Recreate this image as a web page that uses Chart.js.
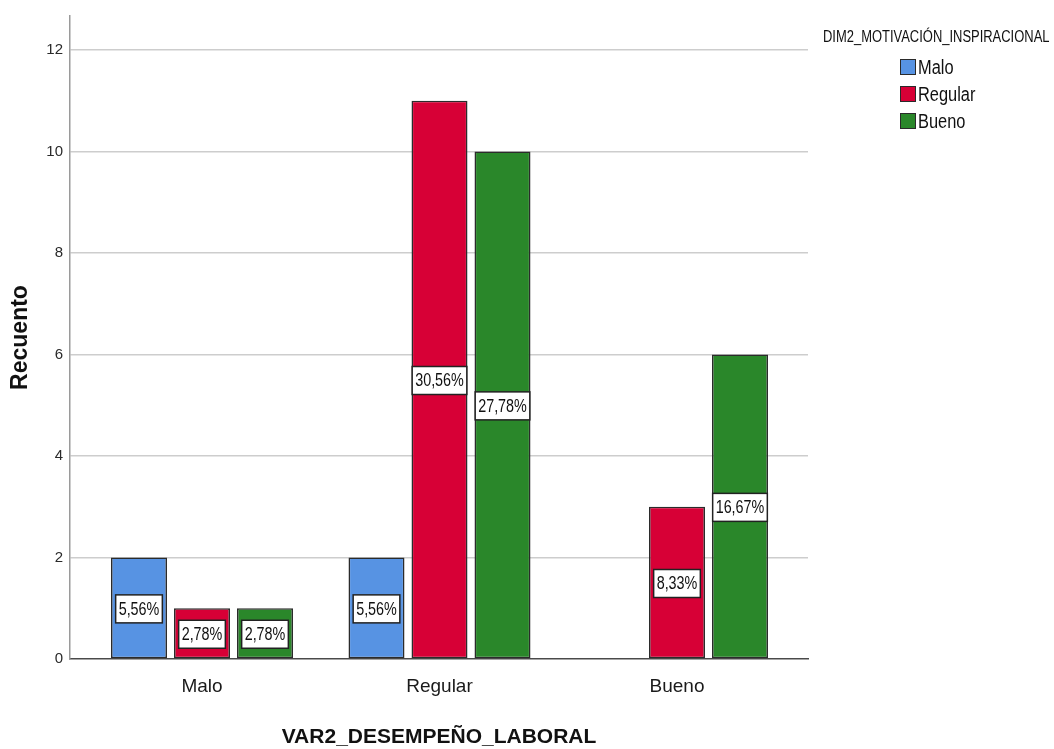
<!DOCTYPE html>
<html lang="es">
<head>
<meta charset="utf-8">
<title>Recuento por VAR2_DESEMPEÑO_LABORAL</title>
<script src="https://cdn.jsdelivr.net/npm/chart.js@4/dist/chart.umd.min.js"></script>
<style>
  html, body { margin: 0; padding: 0; background: #ffffff; }
  #wrap { position: relative; width: 1054px; height: 749px; overflow: hidden; }
  #chart { position: absolute; left: 0; top: 0; }
  #legend { position: absolute; left: 0; top: 0; width: 1054px; height: 749px; pointer-events: none;
            font-family: 'Liberation Sans', Arial, sans-serif; color: #111; }
  #legend .title { position: absolute; left: 823px; top: 28px; font-size: 15.8px; line-height: 18px;
                   white-space: nowrap; transform: scaleX(0.82); transform-origin: 0 0; }
  #legend .item { position: absolute; left: 900px; height: 20px; display: flex; align-items: center; white-space: nowrap; }
  #legend .box { width: 14px; height: 14px; border: 1px solid #2a2a2a; margin-right: 2px; flex: none; }
  #legend .lbl { font-size: 20px; line-height: 20px; transform: scaleX(0.82); transform-origin: 0 50%; }
</style>
</head>
<body>
<div id="wrap">
  <canvas id="chart" width="1054" height="749"></canvas>
  <div id="legend"></div>
</div>
<script>
// Categories of the x axis (VAR2_DESEMPEÑO_LABORAL)
const categories = ['Malo', 'Regular', 'Bueno'];

// Groups of DIM2_MOTIVACIÓN_INSPIRACIONAL (one bar series each)
const seriesNames = ['Malo', 'Regular', 'Bueno'];

// Counts per x category, one array per DIM2 group
const countsMalo    = [2, 2, 0];
const countsRegular = [1, 11, 3];
const countsBueno   = [1, 10, 6];

// Y axis tick values
const yTicks = [0, 2, 4, 6, 8, 10, 12];

const seriesColors = ['#5793e3', '#d70036', '#2a872a'];
const seriesCounts = [countsMalo, countsRegular, countsBueno];

const totalCount = seriesCounts.flat().reduce((a, b) => a + b, 0);

const SANS = "'Liberation Sans', Arial, sans-serif";
const NARROW_X = 0.82; // horizontal squeeze for the condensed label text

// Percentage of the grand total, written with a decimal comma
function pctLabel(v) {
  return (v / totalCount * 100).toFixed(2).replace('.', ',') + '%';
}

// White boxed percentage in the middle of every bar
const barValueBoxes = {
  id: 'barValueBoxes',
  afterDatasetsDraw(chart) {
    const ctx = chart.ctx;
    ctx.save();
    ctx.font = '17.5px ' + SANS;
    ctx.textAlign = 'center';
    ctx.textBaseline = 'middle';
    chart.data.datasets.forEach((ds, di) => {
      const meta = chart.getDatasetMeta(di);
      meta.data.forEach((bar, i) => {
        const v = ds.data[i].y;
        if (!v) return;
        const text = pctLabel(v);
        const cx = bar.x;
        const cy = (bar.y + bar.base) / 2 + 1;
        const w = ctx.measureText(text).width * NARROW_X + 6;
        const h = 28;
        ctx.fillStyle = '#ffffff';
        ctx.fillRect(cx - w / 2, cy - h / 2, w, h);
        ctx.lineWidth = 1.5;
        ctx.strokeStyle = '#222222';
        ctx.strokeRect(cx - w / 2, cy - h / 2, w, h);
        ctx.save();
        ctx.translate(cx, cy + 1);
        ctx.scale(NARROW_X, 1);
        ctx.fillStyle = '#111111';
        ctx.fillText(text, 0, 0);
        ctx.restore();
      });
    });
    ctx.restore();
  }
};

// Legend built from the chart's datasets
const htmlLegend = {
  id: 'htmlLegend',
  afterUpdate(chart) {
    const el = document.getElementById('legend');
    el.innerHTML = '';
    const t = document.createElement('div');
    t.className = 'title';
    t.textContent = 'DIM2_MOTIVACIÓN_INSPIRACIONAL';
    el.appendChild(t);
    chart.data.datasets.forEach((ds, i) => {
      const item = document.createElement('div');
      item.className = 'item';
      item.style.top = (57 + i * 27) + 'px';
      const box = document.createElement('span');
      box.className = 'box';
      box.style.background = ds.backgroundColor;
      const lbl = document.createElement('span');
      lbl.className = 'lbl';
      lbl.textContent = ds.label;
      item.appendChild(box);
      item.appendChild(lbl);
      el.appendChild(item);
    });
  }
};

const datasets = seriesNames.map((name, s) => ({
  label: name,
  data: seriesCounts[s].map((v, i) => ({ x: i, y: v })),
  backgroundColor: seriesColors[s],
  borderColor: '#2b2b2b',
  borderWidth: 1.6,
  borderSkipped: false,
  categoryPercentage: 0.7958,
  barPercentage: 0.8889
}));

new Chart(document.getElementById('chart'), {
  type: 'bar',
  data: { datasets },
  options: {
    responsive: false,
    animation: false,
    events: [],
    layout: { padding: { left: 0, right: 246, top: 15, bottom: 0 } },
    plugins: {
      legend: { display: false },
      tooltip: { enabled: false }
    },
    scales: {
      x: {
        type: 'linear',
        offset: false,
        min: -0.5558,
        max: 2.5516,
        afterFit(scale) { scale.height = 90; },
        afterBuildTicks(scale) {
          scale.ticks = categories.map((c, i) => ({ value: i }));
        },
        ticks: {
          includeBounds: false,
          stepSize: 1,
          padding: 16,
          color: '#1a1a1a',
          font: { family: SANS, size: 19 },
          callback: (v) => categories[v] ?? ''
        },
        grid: { display: false, drawTicks: false, offset: false },
        border: { display: true, color: '#4a4a4a', width: 1.5 },
        title: {
          display: true,
          text: 'VAR2_DESEMPEÑO_LABORAL',
          color: '#111111',
          font: { family: SANS, size: 21, weight: 'bold', lineHeight: 1 },
          padding: { top: 0, bottom: 1 }
        }
      },
      y: {
        min: 0,
        max: 12.67,
        afterFit(scale) { scale.width = 70; },
        afterBuildTicks(scale) {
          scale.ticks = yTicks.map(v => ({ value: v }));
        },
        ticks: {
          padding: 7,
          color: '#2a2a2a',
          font: { family: SANS, size: 15 }
        },
        grid: {
          drawTicks: false,
          color: (c) => c.tick && c.tick.value === 0 ? 'rgba(0,0,0,0)' : '#cdcdcd',
          lineWidth: 1.5
        },
        border: { display: true, color: '#9a9a9a', width: 1.5 },
        title: {
          display: true,
          text: 'Recuento',
          color: '#111111',
          font: { family: SANS, size: 23, weight: 'bold', lineHeight: 1 },
          padding: { top: 9, bottom: 0 }
        }
      }
    }
  },
  plugins: [barValueBoxes, htmlLegend]
});
</script>
</body>
</html>
